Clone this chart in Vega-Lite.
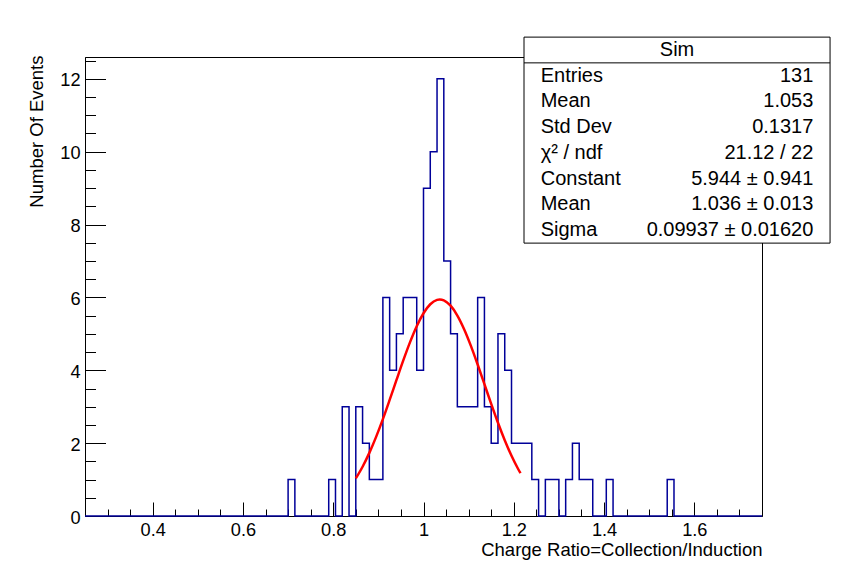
{
  "$schema": "https://vega.github.io/schema/vega-lite/v6.json",
  "width": 677,
  "height": 459,
  "autosize": {"type": "none"},
  "padding": {"left": 85, "top": 57, "right": 85, "bottom": 58},
  "background": "white",
  "config": {
    "font": "Liberation Sans",
    "view": {"stroke": "black", "strokeWidth": 1},
    "axis": {
      "grid": false,
      "domainColor": "black",
      "domainWidth": 1,
      "tickColor": "black",
      "tickWidth": 1,
      "labelColor": "black",
      "titleColor": "black",
      "labelFont": "Liberation Sans",
      "titleFont": "Liberation Sans",
      "labelFontSize": 18.2,
      "titleFontSize": 18.5,
      "titleFontWeight": "normal",
      "labelFlush": false,
      "labelOverlap": false,
      "zindex": 1
    }
  },
  "datasets": {
    "hist": [
      {"x": 0.25, "n": 0}, {"x": 0.265, "n": 0}, {"x": 0.28, "n": 0}, {"x": 0.295, "n": 0},
      {"x": 0.31, "n": 0}, {"x": 0.325, "n": 0}, {"x": 0.34, "n": 0}, {"x": 0.355, "n": 0},
      {"x": 0.37, "n": 0}, {"x": 0.385, "n": 0}, {"x": 0.4, "n": 0}, {"x": 0.415, "n": 0},
      {"x": 0.43, "n": 0}, {"x": 0.445, "n": 0}, {"x": 0.46, "n": 0}, {"x": 0.475, "n": 0},
      {"x": 0.49, "n": 0}, {"x": 0.505, "n": 0}, {"x": 0.52, "n": 0}, {"x": 0.535, "n": 0},
      {"x": 0.55, "n": 0}, {"x": 0.565, "n": 0}, {"x": 0.58, "n": 0}, {"x": 0.595, "n": 0},
      {"x": 0.61, "n": 0}, {"x": 0.625, "n": 0}, {"x": 0.64, "n": 0}, {"x": 0.655, "n": 0},
      {"x": 0.67, "n": 0}, {"x": 0.685, "n": 0}, {"x": 0.7, "n": 1}, {"x": 0.715, "n": 0},
      {"x": 0.73, "n": 0}, {"x": 0.745, "n": 0}, {"x": 0.76, "n": 0}, {"x": 0.775, "n": 0},
      {"x": 0.79, "n": 1}, {"x": 0.805, "n": 0}, {"x": 0.82, "n": 3}, {"x": 0.835, "n": 0},
      {"x": 0.85, "n": 3}, {"x": 0.865, "n": 2}, {"x": 0.88, "n": 1}, {"x": 0.895, "n": 1},
      {"x": 0.91, "n": 6}, {"x": 0.925, "n": 4}, {"x": 0.94, "n": 5}, {"x": 0.955, "n": 6},
      {"x": 0.97, "n": 6}, {"x": 0.985, "n": 4}, {"x": 1.0, "n": 9}, {"x": 1.015, "n": 10},
      {"x": 1.03, "n": 12}, {"x": 1.045, "n": 7}, {"x": 1.06, "n": 5}, {"x": 1.075, "n": 3},
      {"x": 1.09, "n": 3}, {"x": 1.105, "n": 3}, {"x": 1.12, "n": 6}, {"x": 1.135, "n": 3},
      {"x": 1.15, "n": 2}, {"x": 1.165, "n": 5}, {"x": 1.18, "n": 4}, {"x": 1.195, "n": 2},
      {"x": 1.21, "n": 2}, {"x": 1.225, "n": 2}, {"x": 1.24, "n": 1}, {"x": 1.255, "n": 0},
      {"x": 1.27, "n": 1}, {"x": 1.285, "n": 1}, {"x": 1.3, "n": 0}, {"x": 1.315, "n": 1},
      {"x": 1.33, "n": 2}, {"x": 1.345, "n": 1}, {"x": 1.36, "n": 1}, {"x": 1.375, "n": 0},
      {"x": 1.39, "n": 0}, {"x": 1.405, "n": 1}, {"x": 1.42, "n": 0}, {"x": 1.435, "n": 0},
      {"x": 1.45, "n": 0}, {"x": 1.465, "n": 0}, {"x": 1.48, "n": 0}, {"x": 1.495, "n": 0},
      {"x": 1.51, "n": 0}, {"x": 1.525, "n": 0}, {"x": 1.54, "n": 1}, {"x": 1.555, "n": 0},
      {"x": 1.57, "n": 0}, {"x": 1.585, "n": 0}, {"x": 1.6, "n": 0}, {"x": 1.615, "n": 0},
      {"x": 1.63, "n": 0}, {"x": 1.645, "n": 0}, {"x": 1.66, "n": 0}, {"x": 1.675, "n": 0},
      {"x": 1.69, "n": 0}, {"x": 1.705, "n": 0}, {"x": 1.72, "n": 0}, {"x": 1.735, "n": 0},
      {"x": 1.75, "n": 0}
    ],
    "fit": [
      {"x": 0.85, "y": 1.031}, {"x": 0.865, "y": 1.352}, {"x": 0.88, "y": 1.733},
      {"x": 0.895, "y": 2.172}, {"x": 0.91, "y": 2.66}, {"x": 0.925, "y": 3.186},
      {"x": 0.94, "y": 3.728}, {"x": 0.955, "y": 4.264}, {"x": 0.97, "y": 4.767},
      {"x": 0.985, "y": 5.211}, {"x": 1.0, "y": 5.566}, {"x": 1.015, "y": 5.813},
      {"x": 1.03, "y": 5.933}, {"x": 1.036, "y": 5.944}, {"x": 1.045, "y": 5.92},
      {"x": 1.06, "y": 5.773}, {"x": 1.075, "y": 5.503}, {"x": 1.09, "y": 5.128},
      {"x": 1.105, "y": 4.671}, {"x": 1.12, "y": 4.158}, {"x": 1.135, "y": 3.618},
      {"x": 1.15, "y": 3.078}, {"x": 1.165, "y": 2.559}, {"x": 1.18, "y": 2.08},
      {"x": 1.195, "y": 1.652}, {"x": 1.21, "y": 1.283}, {"x": 1.215, "y": 1.174}
    ],
    "statsbox": [{"title": "Sim"}],
    "stats": [
      {"line": 1, "label": "Entries", "value": "131"},
      {"line": 2, "label": "Mean", "value": "1.053"},
      {"line": 3, "label": "Std Dev", "value": "0.1317"},
      {"line": 4, "label": "χ² / ndf", "value": "21.12 / 22"},
      {"line": 5, "label": "Constant", "value": "5.944 ± 0.941"},
      {"line": 6, "label": "Mean", "value": "1.036 ± 0.013"},
      {"line": 7, "label": "Sigma", "value": "0.09937 ± 0.01620"}
    ]
  },
  "layer": [
    {
      "layer": [
        {
          "data": {"name": "hist"},
          "mark": {"type": "line", "interpolate": "step-after", "color": "#000099", "strokeWidth": 1.5},
          "encoding": {
            "x": {
              "field": "x",
              "type": "quantitative",
              "scale": {"domain": [0.25, 1.75], "nice": false, "zero": false},
              "axis": {
                "orient": "bottom",
                "values": [0.4, 0.6, 0.8, 1, 1.2, 1.4, 1.6],
                "format": "~g",
                "tickSize": -14,
                "labelPadding": 19,
                "title": "Charge Ratio=Collection/Induction",
                "titleAnchor": "end",
                "titleAlign": "right",
                "titleBaseline": "alphabetic",
                "titleX": 677,
                "titleY": 39
              }
            },
            "y": {
              "field": "n",
              "type": "quantitative",
              "scale": {"domain": [0, 12.6], "nice": false},
              "axis": {
                "orient": "left",
                "values": [0, 2, 4, 6, 8, 10, 12],
                "format": "d",
                "tickSize": -20.5,
                "labelPadding": 25.5,
                "labelBaseline": "middle",
                "labelOffset": 2,
                "title": "Number Of Events",
                "titleAngle": -90,
                "titleAlign": "right",
                "titleBaseline": "alphabetic",
                "titleX": -42.5,
                "titleY": -2
              }
            }
          }
        },
        {
          "data": {"name": "fit"},
          "mark": {"type": "line", "interpolate": "monotone", "color": "#ff0000", "strokeWidth": 2.5},
          "encoding": {
            "x": {
              "field": "x",
              "type": "quantitative",
              "axis": {
                "orient": "bottom",
                "values": [0.3, 0.35, 0.45, 0.5, 0.55, 0.65, 0.7, 0.75, 0.85, 0.9, 0.95, 1.05, 1.1, 1.15, 1.25, 1.3, 1.35, 1.45, 1.5, 1.55, 1.65, 1.7],
                "tickSize": -7,
                "labels": false,
                "domain": false,
                "title": null
              }
            },
            "y": {
              "field": "y",
              "type": "quantitative",
              "scale": {"domain": [0, 12.6], "nice": false},
              "axis": {
                "orient": "left",
                "values": [0.5, 1, 1.5, 2.5, 3, 3.5, 4.5, 5, 5.5, 6.5, 7, 7.5, 8.5, 9, 9.5, 10.5, 11, 11.5, 12.5],
                "tickSize": -10.5,
                "labels": false,
                "domain": false,
                "title": null
              }
            }
          }
        }
      ],
      "resolve": {"axis": {"x": "independent", "y": "independent"}}
    },
    {
      "layer": [
        {
          "data": {"name": "statsbox"},
          "mark": {"type": "rect", "fill": "white", "stroke": "black", "strokeWidth": 1},
          "encoding": {
            "x": {"datum": 1.2227, "type": "quantitative", "axis": null},
            "x2": {"datum": 1.9008},
            "y": {"datum": -0.5, "type": "quantitative", "axis": null, "scale": {"domain": [0.272, 18.097], "nice": false, "zero": false, "reverse": true}},
            "y2": {"datum": 7.5}
          }
        },
        {
          "data": {"name": "statsbox"},
          "mark": {"type": "rule", "color": "black", "strokeWidth": 1},
          "encoding": {
            "x": {"datum": 1.2227, "type": "quantitative", "axis": null},
            "x2": {"datum": 1.9008},
            "y": {"datum": 0.5, "type": "quantitative", "axis": null}
          }
        },
        {
          "data": {"name": "statsbox"},
          "mark": {"type": "text", "align": "center", "baseline": "middle", "fontSize": 20, "font": "Liberation Sans", "color": "black"},
          "encoding": {
            "x": {"datum": 1.5618, "type": "quantitative", "axis": null},
            "y": {"datum": 0, "type": "quantitative", "axis": null},
            "text": {"field": "title"}
          }
        },
        {
          "data": {"name": "stats"},
          "mark": {"type": "text", "align": "left", "baseline": "middle", "fontSize": 20, "font": "Liberation Sans", "color": "black"},
          "encoding": {
            "x": {"datum": 1.2597, "type": "quantitative", "axis": null},
            "y": {"field": "line", "type": "quantitative", "axis": null},
            "text": {"field": "label"}
          }
        },
        {
          "data": {"name": "stats"},
          "mark": {"type": "text", "align": "right", "baseline": "middle", "fontSize": 20, "font": "Liberation Sans", "color": "black"},
          "encoding": {
            "x": {"datum": 1.8638, "type": "quantitative", "axis": null},
            "y": {"field": "line", "type": "quantitative", "axis": null},
            "text": {"field": "value"}
          }
        }
      ]
    }
  ],
  "resolve": {"scale": {"y": "independent"}, "axis": {"x": "independent", "y": "independent"}}
}
